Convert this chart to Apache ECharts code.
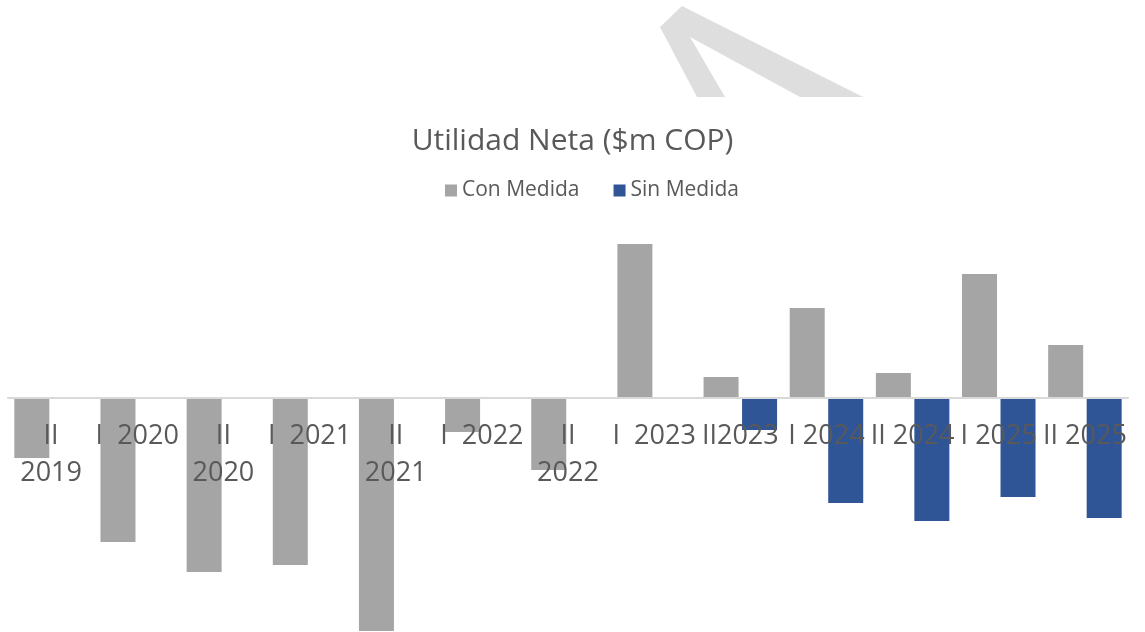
<!DOCTYPE html>
<html>
<head>
<meta charset="utf-8">
<title>Utilidad Neta</title>
<script src="https://cdn.jsdelivr.net/npm/echarts@6/dist/echarts.min.js"></script>
<style>
  html, body { margin: 0; padding: 0; background: #fff; }
  #main { width: 1145px; height: 632px; }
</style>
</head>
<body>
<div id="main"></div>
<script>
// periodos (tal cual aparecen en el eje)
var periodos = ['II\n2019', 'I  2020', 'II\n2020', 'I  2021', 'II\n2021', 'I  2022', 'II\n2022',
    'I  2023', 'II2023', 'I 2024', 'II 2024', 'I 2025', 'II 2025'];

// utilidad neta, $m COP
var conMedida = [-60, -144, -174, -167, -233, -34, -72, 154, 21, 90, 25, 124, 53];
var sinMedida = [null, null, null, null, null, null, null, null, -32, -105, -123, -99, -120];

var nombres = ['Con Medida', 'Sin Medida'];
var colores = ['#a5a5a5', '#2f5597'];

var chart = echarts.init(document.getElementById('main'));

chart.setOption({
    backgroundColor: '#fff',
    textStyle: { fontFamily: 'Open Sans' },
    // figura decorativa de arriba
    graphic: [{
        type: 'polygon',
        shape: {
            points: [[660, 27], [682, 6], [863, 97], [800, 97], [690, 37], [725, 97], [697, 97]]
        },
        style: { fill: '#dedede' },
        z: -1
    }],
    title: {
        text: 'Utilidad Neta ($m COP)',
        left: 'center',
        top: 121,
        textStyle: { fontSize: 30, fontWeight: 'normal', color: '#595959' }
    },
    legend: {
        data: nombres,
        left: 440,
        top: 175,
        icon: 'rect',
        itemWidth: 12,
        itemHeight: 12,
        itemGap: 34,
        textStyle: { fontSize: 21, color: '#595959' }
    },
    grid: { left: 8, right: 17, top: 228, bottom: 0, containLabel: false, outerBoundsMode: 'none' },
    xAxis: {
        type: 'category',
        data: periodos,
        z: 10,
        axisLine: { onZero: true, lineStyle: { color: '#d9d9d9', width: 2 } },
        axisTick: { show: false },
        axisLabel: {
            interval: 0,
            fontSize: 27,
            lineHeight: 37,
            color: '#595959',
            // v6 deja las etiquetas en el borde del grid, se suben hasta la linea del cero
            margin: -214
        }
    },
    yAxis: {
        type: 'value',
        min: -234,
        max: 170,
        show: false,
        splitLine: { show: false }
    },
    series: [{
        name: nombres[0],
        type: 'bar',
        data: conMedida,
        barWidth: 35,
        barGap: '10%',
        itemStyle: { color: colores[0] }
    }, {
        name: nombres[1],
        type: 'bar',
        data: sinMedida,
        barWidth: 35,
        itemStyle: { color: colores[1] }
    }]
});
</script>
</body>
</html>
